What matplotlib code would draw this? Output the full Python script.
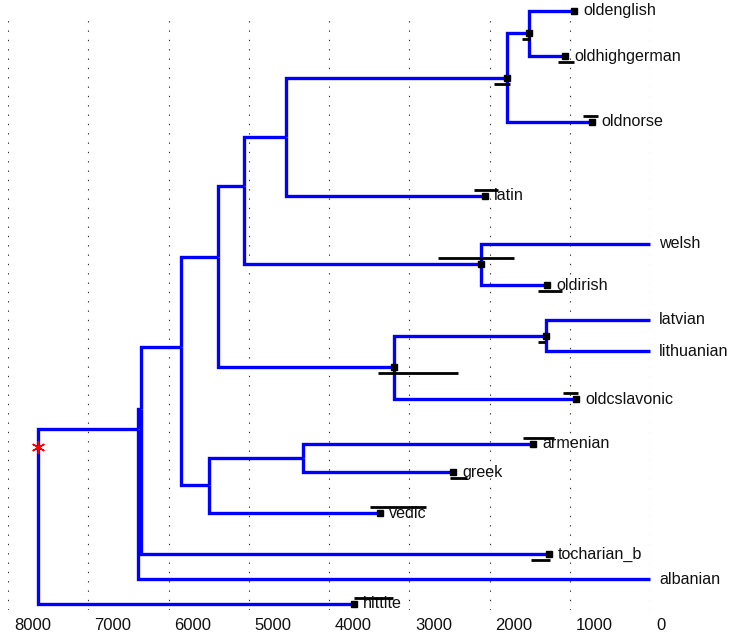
import matplotlib
matplotlib.use("Agg")
import matplotlib.pyplot as plt
import matplotlib.transforms as mtransforms

# leaves: name, age (years BP), vertical row position
leaf_names = ["oldenglish", "oldhighgerman", "oldnorse", "latin", "welsh", "oldirish",
              "latvian", "lithuanian", "oldcslavonic", "armenian", "greek", "vedic",
              "tocharian_b", "albanian", "hittite"]
leaf_age = [947, 1059, 723, 2056, 0, 1283, 0, 0, 922, 1458, 2455, 3364, 1259, 0, 3688]
leaf_y = [11, 56, 122, 196, 244, 285, 320, 351, 399, 444, 472, 513, 554, 579, 604]

# internal nodes
node_names = ["root", "n_alb", "n_toch", "n_core", "n_north", "n_cw", "n_wgl",
              "n_germ", "n_eng", "n_celt", "n_bsl", "n_balt", "n_gai", "n_ga"]
node_age = [7626, 6380, 6340, 5844, 5383, 5059, 4536, 1782, 1508, 2106, 3190, 1296, 5495, 4324]
node_y = [447, 429, 409, 347, 257, 186, 137, 78, 33, 264, 367, 336, 485, 458]

parent = {
    "oldenglish": "n_eng", "oldhighgerman": "n_eng", "n_eng": "n_germ", "oldnorse": "n_germ",
    "n_germ": "n_wgl", "latin": "n_wgl", "n_wgl": "n_cw", "n_celt": "n_cw",
    "welsh": "n_celt", "oldirish": "n_celt", "n_cw": "n_north", "n_bsl": "n_north",
    "latvian": "n_balt", "lithuanian": "n_balt", "n_balt": "n_bsl", "oldcslavonic": "n_bsl",
    "n_north": "n_core", "n_gai": "n_core", "n_ga": "n_gai", "vedic": "n_gai",
    "armenian": "n_ga", "greek": "n_ga", "n_core": "n_toch", "tocharian_b": "n_toch",
    "n_toch": "n_alb", "albanian": "n_alb", "n_alb": "root", "hittite": "root",
}

# calibration intervals: (older, younger, side of the branch: +1 below, -1 above)
intervals = {
    "n_eng": (1595, 1495, 1), "n_germ": (1944, 1745, 1), "oldhighgerman": (1146, 947, 1),
    "oldnorse": (835, 648, -1), "latin": (2193, 1894, -1), "n_celt": (2642, 1695, -1),
    "oldirish": (1396, 1097, 1), "n_balt": (1396, 1308, 1), "n_bsl": (3390, 2393, 1),
    "oldcslavonic": (1084, 897, -1), "armenian": (1583, 1196, -1), "greek": (2492, 2280, 1),
    "vedic": (3489, 2791, -1), "tocharian_b": (1483, 1246, 1), "hittite": (3688, 3202, -1),
}
marked = ["oldenglish"] + list(intervals.keys())

ages = dict(zip(leaf_names, leaf_age))
ages.update(zip(node_names, node_age))
ypos = dict(zip(leaf_names, leaf_y))
ypos.update(zip(node_names, node_y))

fig = plt.figure(figsize=(7.32, 6.35), dpi=100)
ax = fig.add_axes([8 / 732, 25 / 635, 642 / 732, 597 / 635])
ax.set_xlim(8000, 0)
ax.set_ylim(610, 13)

# branches
for child, par in parent.items():
    xs = [ages[par], ages[par], ages[child]]
    ys = [ypos[par], ypos[child], ypos[child]]
    ax.plot(xs, ys, color="#0000ff", lw=2.4, solid_joinstyle="miter",
            solid_capstyle="butt", clip_on=False, zorder=3)

# interval bars and dated nodes
bar_off = 6
for name, (old, young, side) in intervals.items():
    y = ypos[name] + side * bar_off
    ax.plot([old, young], [y, y], color="k", lw=2.0, solid_capstyle="butt",
            clip_on=False, zorder=4)
for name in marked:
    ax.plot(ages[name], ypos[name], "s", color="k", ms=4.4, clip_on=False, zorder=5)

# root marker
ax.plot(ages["root"], ypos["root"], marker=(6, 2, 0), color="red", ms=9.5, mew=1.1,
        clip_on=False, zorder=6)

# leaf labels
lab_off = mtransforms.ScaledTranslation(9 / 100, 0, fig.dpi_scale_trans)
for name in leaf_names:
    ax.text(ages[name], ypos[name], name, ha="left", va="center", fontsize=11.6,
            family="Liberation Sans", color="#111111",
            transform=ax.transData + lab_off, clip_on=False)

ax.set_xticks(range(8000, -1, -1000))
ax.set_xticklabels([str(v) for v in range(8000, -1, -1000)], family="Liberation Sans",
                   fontsize=12, color="#111111")
ax.set_yticks([])
ax.tick_params(axis="x", length=0, pad=6)
tick_off = mtransforms.ScaledTranslation(6 / 100, 0, fig.dpi_scale_trans)
for lab in ax.get_xticklabels():
    lab.set_horizontalalignment("left")
    lab.set_transform(lab.get_transform() + tick_off)

ax.grid(axis="x", color="#333333", lw=0.8, linestyle=(0, (1.2, 7.2)))
for sp in ax.spines.values():
    sp.set_visible(False)

fig.savefig("out.png", dpi=100)
